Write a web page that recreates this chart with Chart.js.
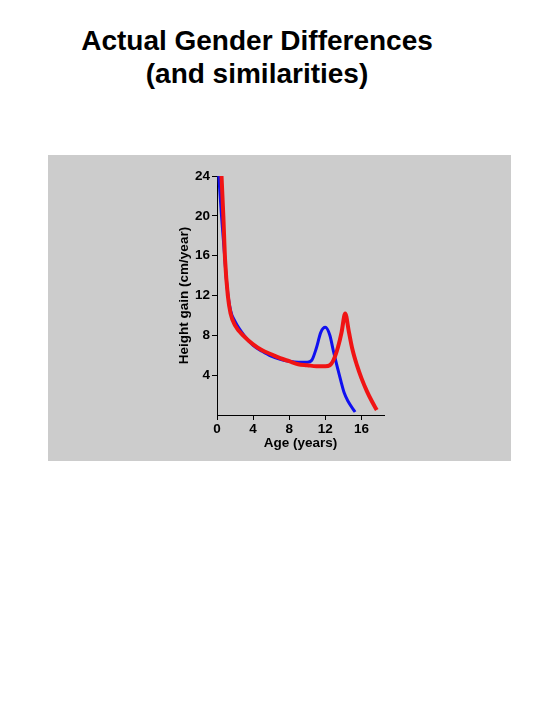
<!DOCTYPE html>
<html>
<head>
<meta charset="utf-8">
<script src="https://cdn.jsdelivr.net/npm/chart.js@4/dist/chart.umd.min.js"></script>
<style>
  body { margin: 0; width: 540px; height: 720px; background: #fff; position: relative; font-family: "Liberation Sans", Arial, sans-serif; }
  #title { position: absolute; left: 0; top: 24px; width: 514px; text-align: center; font-weight: bold; font-size: 28px; line-height: 33px; color: #000; }
  #box { position: absolute; left: 48px; top: 155px; width: 463px; height: 306px; background: #cccccc; }
</style>
</head>
<body>
<div id="title">Actual Gender Differences<br>(and similarities)</div>
<div id="box"><canvas id="chart" width="463" height="306"></canvas></div>
<script>
// Data
const blueAge  = [0.2, 0.5, 0.8, 1.1, 1.5, 2, 3, 4, 5, 6, 7, 8, 9, 10, 10.5, 11, 11.5, 12, 12.5, 12.9, 13.3, 13.7, 14.1, 14.5, 15.3];
const blueGain = [24, 20, 16.5, 13, 10.5, 9.4, 8.0, 7.0, 6.4, 5.9, 5.6, 5.4, 5.3, 5.3, 5.5, 6.7, 8.3, 8.8, 8.0, 6.4, 4.9, 3.5, 2.2, 1.4, 0.3];
const redAge   = [0.5, 0.7, 0.9, 1.2, 1.5, 2, 3, 4, 5, 6, 7, 8, 9, 10, 11, 12, 12.5, 12.9, 13.4, 13.8, 14.2, 14.6, 15.0, 15.5, 16.0, 16.6, 17.2, 17.7];
const redGain  = [24, 20, 15.5, 12, 10.2, 9.0, 7.9, 7.1, 6.5, 6.1, 5.7, 5.4, 5.1, 5.0, 4.9, 4.9, 5.0, 5.5, 6.8, 8.3, 10.2, 8.4, 6.6, 5.0, 3.7, 2.4, 1.3, 0.5];
const xTicks = [0, 4, 8, 12, 16];
const yTicks = [4, 8, 12, 16, 20, 24];

const toPoints = (xs, ys) => xs.map((x, i) => ({ x: x, y: ys[i] }));
const tickFont = { family: "'Liberation Sans', Arial, sans-serif", size: 13.5, weight: 'bold' };

new Chart(document.getElementById('chart'), {
  type: 'line',
  data: {
    datasets: [
      {
        label: 'red',
        data: toPoints(redAge, redGain),
        borderColor: '#f01414',
        borderWidth: 4,
        pointRadius: 0,
        cubicInterpolationMode: 'monotone',
        order: 0
      },
      {
        label: 'blue',
        data: toPoints(blueAge, blueGain),
        borderColor: '#1010f0',
        borderWidth: 3,
        pointRadius: 0,
        cubicInterpolationMode: 'monotone',
        order: 1
      }
    ]
  },
  options: {
    responsive: false,
    animation: false,
    layout: { padding: { left: 128, top: 21, right: 127, bottom: 10 } },
    plugins: { legend: { display: false }, tooltip: { enabled: false } },
    scales: {
      x: {
        type: 'linear',
        min: 0,
        max: 18.5,
        afterBuildTicks: (scale) => { scale.ticks = xTicks.map(v => ({ value: v })); },
        afterFit: (scale) => { scale.height = 36; },
        border: { color: '#000', width: 1 },
        grid: { drawOnChartArea: false, color: '#000', tickLength: 5 },
        ticks: { color: '#000', font: tickFont, padding: 1, maxRotation: 0 },
        title: { display: true, text: 'Age (years)', color: '#000', font: tickFont, padding: { top: 0, bottom: 0 } }
      },
      y: {
        min: 0,
        max: 24,
        afterBuildTicks: (scale) => { scale.ticks = yTicks.map(v => ({ value: v })); },
        afterFit: (scale) => { scale.width = 41; },
        border: { color: '#000', width: 1 },
        grid: { drawOnChartArea: false, color: '#000', tickLength: 5 },
        ticks: { color: '#000', font: tickFont, padding: 2 },
        title: { display: true, text: 'Height gain (cm/year)', color: '#000', font: tickFont, padding: { top: 0, bottom: 0 } }
      }
    }
  }
});
</script>
</body>
</html>
